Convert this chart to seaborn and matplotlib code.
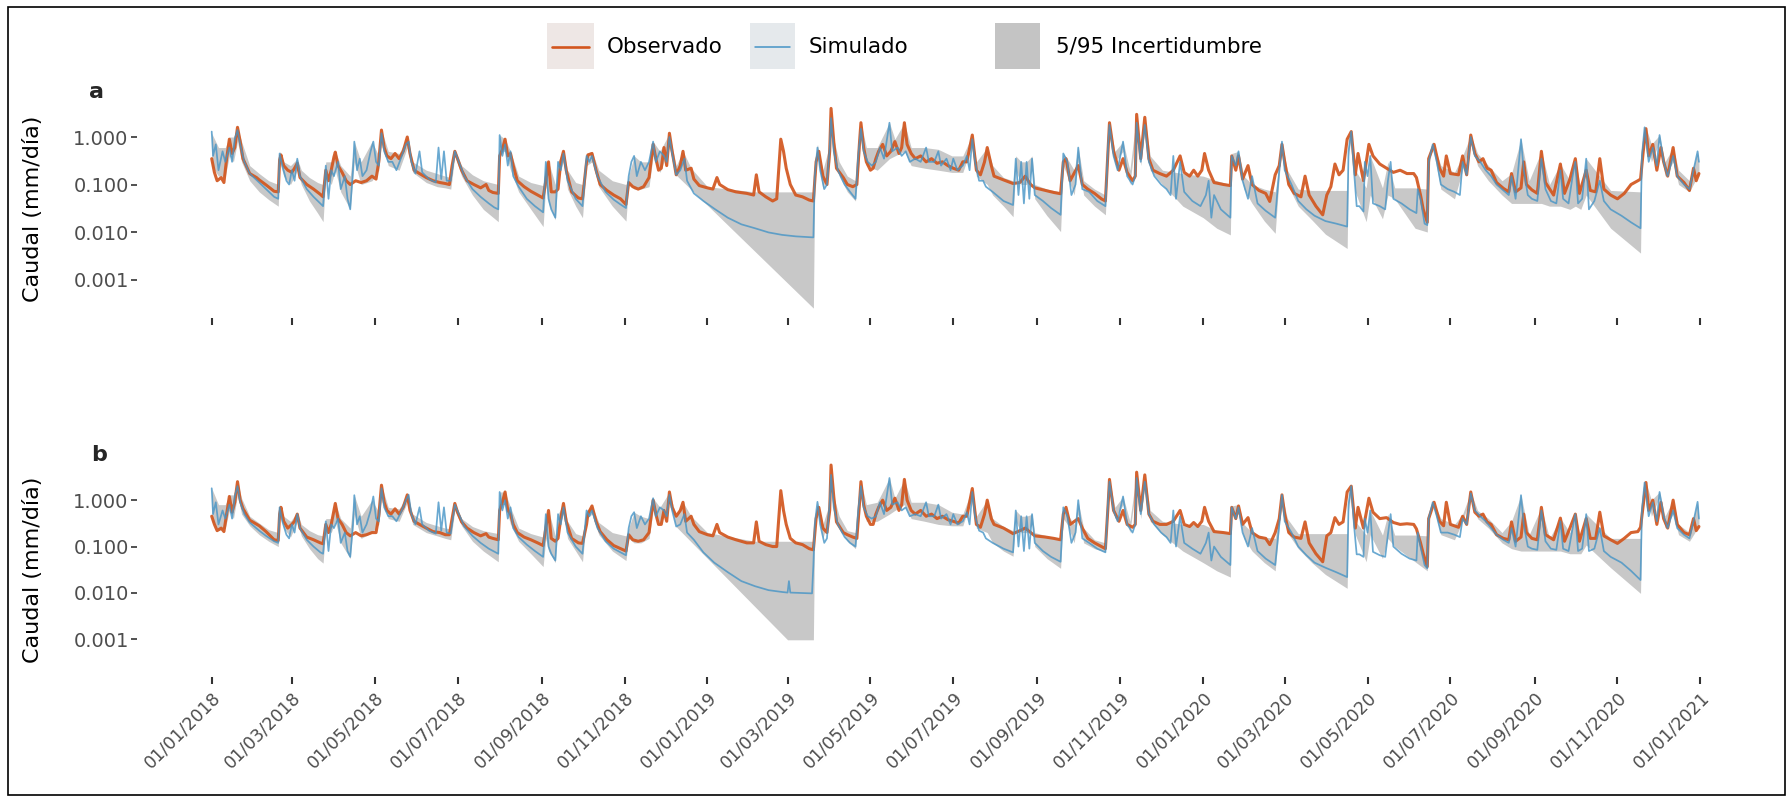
import numpy as np
import pandas as pd
import matplotlib
matplotlib.use("Agg")
import matplotlib.pyplot as plt
import matplotlib.dates as mdates
from matplotlib.patches import Rectangle
from matplotlib.lines import Line2D
import seaborn as sns

START = "2018-01-01"
legend_labels = ["Observado", "Simulado", "5/95 Incertidumbre"]
panel_labels = ["a", "b"]
y_ticks = [0.001, 0.01, 0.1, 1.0]
y_tick_labels = ["0.001", "0.010", "0.100", "1.000"]
y_label = "Caudal (mm/día)"

# (day since 2018-01-01, value) keyframes
obs_a = [(0,0.35),(2,0.18),(4,0.12),(7,0.14),(9,0.11),(11,0.35),(13,0.9),(15,0.45),(17,0.6),(19,1.6),(21,0.8),(23,0.35),(28,0.17),(33,0.14),(35,0.125),(40,0.098),(46,0.072),(49,0.07),(50,0.33),(51,0.42),(53,0.25),(56,0.2),(59,0.18),(61,0.22),(63,0.28),(65,0.14),(70,0.1),(75,0.08),(80,0.062),(82,0.055),(84,0.2),(86,0.12),(88,0.2),(90,0.38),(91,0.48),(93,0.25),(96,0.18),(99,0.12),(102,0.1),(106,0.12),(110,0.11),(114,0.12),(118,0.15),(121,0.13),(123,0.3),(125,1.4),(127,0.6),(129,0.4),(132,0.35),(135,0.45),(138,0.35),(141,0.5),(144,1.0),(146,0.45),(149,0.2),(153,0.17),(158,0.14),(163,0.12),(168,0.11),(172,0.105),(175,0.1),(177,0.25),(179,0.5),(181,0.35),(184,0.2),(188,0.12),(193,0.1),(198,0.085),(202,0.1),(204,0.075),(207,0.068),(211,0.065),(212,0.4),(214,0.55),(216,0.9),(218,0.4),(220,0.45),(222,0.25),(225,0.12),(230,0.09),(235,0.072),(240,0.06),(244,0.052),(246,0.12),(248,0.3),(250,0.07),(253,0.07),(255,0.08),(257,0.3),(259,0.5),(261,0.2),(265,0.07),(270,0.052),(273,0.05),(276,0.3),(277,0.42),(280,0.45),(283,0.2),(286,0.1),(291,0.075),(296,0.06),(301,0.05),(305,0.038),(307,0.11),(310,0.09),(314,0.08),(318,0.09),(322,0.14),(325,0.7),(327,0.35),(329,0.2),(331,0.22),(333,0.6),(335,0.25),(337,1.2),(339,0.5),(342,0.16),(345,0.25),(347,0.5),(349,0.2),(353,0.22),(355,0.13),(359,0.095),(365,0.085),(369,0.08),(372,0.14),(374,0.1),(380,0.078),(386,0.07),(394,0.065),(399,0.06),(401,0.16),(403,0.07),(408,0.055),(413,0.045),(416,0.05),(419,0.9),(421,0.5),(423,0.22),(426,0.1),(430,0.06),(435,0.055),(440,0.047),(443,0.045),(445,0.3),(447,0.5),(450,0.15),(453,0.1),(455,0.5),(456,4.0),(458,0.8),(460,0.22),(465,0.14),(468,0.1),(472,0.09),(475,0.1),(477,0.8),(478,2.0),(480,0.6),(482,0.3),(485,0.2),(487,0.22),(489,0.35),(491,0.5),(494,0.7),(497,0.4),(500,0.5),(503,0.8),(506,0.45),(508,0.6),(510,2.0),(512,0.7),(515,0.45),(518,0.35),(522,0.4),(526,0.3),(530,0.35),(534,0.28),(538,0.3),(542,0.25),(546,0.22),(550,0.2),(553,0.3),(556,0.3),(560,1.1),(563,0.2),(566,0.16),(569,0.3),(571,0.6),(574,0.25),(576,0.15),(583,0.125),(590,0.105),(595,0.11),(599,0.15),(603,0.1),(606,0.085),(614,0.075),(620,0.068),(625,0.064),(627,0.3),(629,0.35),(632,0.12),(638,0.25),(641,0.1),(645,0.08),(650,0.065),(655,0.05),(658,0.045),(660,0.6),(661,2.0),(664,0.5),(668,0.2),(671,0.35),(674,0.18),(678,0.12),(680,0.15),(681,3.0),(684,0.35),(687,2.6),(690,0.35),(693,0.2),(698,0.17),(703,0.15),(708,0.2),(713,0.4),(716,0.18),(720,0.15),(723,0.2),(726,0.15),(729,0.2),(731,0.45),(734,0.2),(738,0.11),(745,0.1),(750,0.095),(751,0.4),(754,0.2),(756,0.4),(759,0.13),(763,0.25),(766,0.1),(771,0.075),(776,0.065),(779,0.044),(783,0.16),(786,0.25),(788,0.7),(790,0.3),(793,0.1),(797,0.065),(802,0.055),(805,0.15),(808,0.06),(813,0.035),(818,0.023),(821,0.06),(824,0.09),(827,0.27),(830,0.16),(833,0.2),(836,0.9),(839,1.3),(842,0.16),(844,0.45),(848,0.12),(852,0.7),(855,0.4),(860,0.27),(865,0.22),(870,0.18),(875,0.2),(880,0.17),(885,0.17),(887,0.14),(890,0.06),(892,0.03),(895,0.016),(896,0.35),(900,0.7),(904,0.22),(907,0.15),(909,0.4),(912,0.17),(918,0.16),(921,0.4),(924,0.16),(927,1.1),(930,0.45),(933,0.3),(936,0.35),(939,0.22),(942,0.2),(946,0.11),(951,0.083),(955,0.07),(957,0.17),(960,0.07),(964,0.085),(966,0.3),(968,0.1),(972,0.077),(976,0.065),(979,0.5),(982,0.11),(988,0.06),(993,0.27),(996,0.065),(1000,0.13),(1004,0.35),(1007,0.065),(1012,0.2),(1015,0.075),(1019,0.07),(1022,0.35),(1025,0.08),(1030,0.06),(1035,0.05),(1040,0.065),(1045,0.1),(1050,0.12),(1052,0.13),(1054,0.5),(1056,1.5),(1058,0.4),(1061,0.7),(1064,0.2),(1067,0.6),(1069,0.3),(1072,0.15),(1076,0.6),(1079,0.15),(1084,0.11),(1088,0.075),(1091,0.22),(1093,0.12),(1095,0.17)]

sim_a = [(0,1.3),(1,0.4),(3,0.7),(5,0.2),(8,0.5),(10,0.3),(13,0.6),(15,0.3),(17,0.9),(19,1.4),(21,0.7),(24,0.3),(28,0.17),(35,0.11),(40,0.08),(46,0.055),(49,0.05),(50,0.45),(52,0.25),(55,0.12),(57,0.1),(59,0.2),(61,0.12),(63,0.35),(65,0.15),(70,0.08),(75,0.055),(80,0.04),(82,0.035),(84,0.25),(86,0.05),(88,0.2),(90,0.15),(93,0.3),(95,0.08),(98,0.15),(100,0.05),(102,0.03),(104,0.2),(105,0.8),(107,0.2),(109,0.35),(111,0.15),(114,0.2),(117,0.5),(119,0.8),(121,0.3),(123,0.25),(125,1.2),(127,0.5),(130,0.3),(133,0.3),(136,0.2),(140,0.4),(143,0.7),(145,0.8),(147,0.3),(150,0.17),(153,0.5),(155,0.18),(160,0.13),(165,0.11),(167,0.6),(169,0.13),(171,0.5),(173,0.12),(176,0.12),(179,0.5),(182,0.3),(186,0.15),(192,0.08),(198,0.055),(204,0.04),(208,0.033),(211,0.03),(212,1.1),(214,0.4),(216,0.7),(218,0.25),(220,0.5),(222,0.15),(226,0.09),(232,0.05),(238,0.035),(244,0.026),(246,0.3),(248,0.05),(250,0.03),(253,0.02),(255,0.3),(257,0.2),(259,0.45),(262,0.12),(268,0.05),(273,0.035),(276,0.4),(278,0.3),(280,0.4),(284,0.15),(290,0.07),(296,0.048),(301,0.038),(305,0.032),(307,0.15),(309,0.3),(311,0.4),(313,0.15),(316,0.3),(319,0.2),(322,0.3),(325,0.8),(327,0.3),(330,0.5),(333,0.4),(335,0.3),(337,1.0),(339,0.45),(342,0.16),(345,0.2),(348,0.35),(350,0.12),(355,0.065),(362,0.045),(370,0.031),(380,0.02),(390,0.0145),(400,0.012),(410,0.0098),(420,0.0087),(430,0.0081),(443,0.0077),(444,0.15),(446,0.6),(448,0.2),(451,0.08),(453,0.1),(455,0.6),(456,2.5),(458,0.5),(461,0.2),(466,0.1),(470,0.07),(474,0.05),(476,0.4),(478,1.5),(480,0.5),(483,0.3),(486,0.25),(489,0.3),(492,0.6),(495,0.35),(499,2.0),(501,0.5),(505,0.6),(508,0.4),(511,0.5),(514,0.3),(518,0.35),(522,0.3),(526,0.6),(528,0.3),(532,0.3),(535,0.5),(537,0.25),(541,0.35),(544,0.2),(546,0.35),(549,0.2),(553,0.25),(556,0.4),(558,0.2),(560,0.9),(562,0.3),(565,0.12),(568,0.12),(570,0.09),(575,0.07),(583,0.045),(590,0.037),(592,0.35),(594,0.06),(596,0.3),(598,0.04),(600,0.3),(602,0.05),(604,0.35),(606,0.06),(612,0.045),(618,0.032),(625,0.023),(627,0.45),(630,0.3),(633,0.06),(636,0.1),(638,0.6),(641,0.08),(646,0.07),(652,0.045),(658,0.035),(660,0.7),(661,1.8),(664,0.4),(667,0.2),(671,0.8),(674,0.15),(678,0.1),(680,0.15),(681,2.0),(684,0.3),(687,1.8),(690,0.3),(694,0.15),(699,0.1),(703,0.08),(706,0.06),(708,0.4),(710,0.05),(713,0.3),(716,0.07),(722,0.045),(728,0.035),(732,0.06),(734,0.12),(736,0.02),(738,0.06),(743,0.03),(750,0.02),(751,0.4),(754,0.25),(756,0.5),(759,0.12),(763,0.05),(766,0.15),(770,0.04),(776,0.028),(783,0.02),(786,0.2),(788,0.8),(790,0.2),(795,0.1),(800,0.045),(806,0.03),(812,0.022),(820,0.017),(828,0.015),(836,0.013),(837,0.5),(839,1.3),(841,0.2),(843,0.035),(845,0.035),(848,0.027),(849,0.3),(851,0.15),(853,0.4),(855,0.04),(860,0.035),(864,0.03),(866,0.12),(868,0.3),(870,0.05),(876,0.04),(882,0.03),(887,0.025),(888,0.08),(890,0.05),(893,0.015),(895,0.014),(896,0.3),(899,0.7),(902,0.3),(905,0.1),(910,0.08),(915,0.07),(919,0.06),(921,0.3),(924,0.16),(927,1.0),(930,0.4),(934,0.3),(938,0.2),(942,0.15),(946,0.1),(951,0.075),(955,0.06),(957,0.15),(960,0.05),(964,0.9),(966,0.2),(969,0.06),(972,0.05),(976,0.045),(979,0.35),(982,0.08),(986,0.045),(990,0.04),(993,0.2),(995,0.05),(999,0.04),(1002,0.15),(1004,0.3),(1006,0.04),(1009,0.05),(1012,0.35),(1014,0.03),(1018,0.045),(1022,0.12),(1025,0.045),(1030,0.03),(1038,0.022),(1045,0.016),(1052,0.012),(1053,0.4),(1055,1.6),(1058,0.3),(1061,0.6),(1064,0.25),(1066,1.1),(1069,0.3),(1072,0.15),(1076,0.4),(1079,0.15),(1084,0.1),(1088,0.08),(1091,0.2),(1094,0.5),(1095,0.3)]

# (day, 5% bound, 95% bound)
band_a = [(0,0.25,1.2),(5,0.15,0.6),(10,0.15,0.6),(13,0.4,1.0),(16,0.3,1.0),(19,0.8,1.6),(22,0.3,0.8),(28,0.12,0.25),(35,0.07,0.17),(42,0.048,0.12),(49,0.035,0.1),(50,0.3,0.5),(53,0.15,0.3),(58,0.1,0.25),(63,0.2,0.35),(66,0.1,0.2),(72,0.045,0.14),(78,0.025,0.11),(82,0.0165,0.1),(84,0.15,0.3),(88,0.1,0.3),(91,0.2,0.5),(95,0.07,0.25),(102,0.03,0.15),(105,0.3,0.8),(110,0.1,0.3),(118,0.12,0.8),(123,0.2,0.4),(125,0.8,1.4),(130,0.25,0.5),(138,0.2,0.45),(144,0.6,1.0),(148,0.18,0.3),(158,0.11,0.2),(166,0.09,0.17),(172,0.085,0.15),(176,0.08,0.14),(179,0.4,0.55),(184,0.15,0.25),(192,0.06,0.16),(200,0.03,0.12),(211,0.0165,0.1),(212,0.5,1.1),(216,0.5,0.9),(220,0.2,0.5),(226,0.07,0.15),(235,0.03,0.11),(244,0.013,0.095),(246,0.1,0.3),(248,0.04,0.3),(253,0.018,0.1),(255,0.15,0.3),(259,0.3,0.55),(262,0.08,0.2),(268,0.035,0.11),(273,0.02,0.1),(276,0.25,0.45),(280,0.3,0.5),(285,0.09,0.2),(295,0.035,0.12),(305,0.017,0.1),(307,0.1,0.15),(311,0.08,0.4),(316,0.08,0.3),(322,0.09,0.3),(325,0.4,0.8),(330,0.18,0.5),(337,0.6,1.2),(342,0.158,0.25),(347,0.115,0.5),(353,0.0785,0.22),(365,0.0365,0.09),(400,0.0039,0.07),(443,0.00025,0.07),(444,0.1,0.3),(446,0.4,0.7),(450,0.08,0.2),(455,0.3,0.7),(456,2.0,4.0),(458,0.4,0.9),(462,0.15,0.3),(468,0.07,0.15),(474,0.045,0.12),(477,0.4,0.9),(478,1.3,2.0),(482,0.25,0.6),(490,0.2,0.6),(499,0.35,2.0),(503,0.4,0.9),(510,0.5,2.0),(515,0.25,0.6),(525,0.22,0.6),(535,0.2,0.55),(545,0.18,0.4),(553,0.18,0.4),(560,0.7,1.1),(563,0.15,0.3),(571,0.1,0.6),(575,0.06,0.25),(583,0.035,0.14),(590,0.021,0.12),(592,0.2,0.4),(596,0.1,0.3),(600,0.1,0.3),(604,0.2,0.4),(606,0.05,0.1),(615,0.022,0.08),(625,0.0102,0.07),(627,0.25,0.45),(630,0.15,0.35),(635,0.06,0.2),(638,0.3,0.6),(642,0.06,0.12),(650,0.035,0.08),(658,0.023,0.06),(660,0.4,0.7),(661,1.5,2.0),(665,0.3,0.5),(671,0.5,0.8),(676,0.1,0.2),(681,1.5,3.0),(684,0.25,0.4),(687,1.5,2.6),(691,0.2,0.4),(700,0.1,0.2),(715,0.035,0.17),(730,0.02,0.15),(740,0.012,0.12),(750,0.0087,0.1),(751,0.3,0.45),(756,0.3,0.5),(760,0.08,0.15),(766,0.04,0.1),(775,0.017,0.08),(783,0.0094,0.07),(786,0.15,0.25),(788,0.6,0.8),(792,0.1,0.2),(800,0.035,0.08),(810,0.018,0.075),(820,0.009,0.075),(836,0.0045,0.075),(837,0.4,0.9),(839,1.0,1.3),(842,0.07,0.2),(850,0.0165,0.085),(853,0.06,0.4),(862,0.019,0.085),(866,0.06,0.3),(871,0.05,0.085),(886,0.012,0.085),(895,0.01,0.08),(896,0.25,0.4),(899,0.6,0.8),(905,0.08,0.25),(915,0.05,0.18),(921,0.2,0.4),(927,0.8,1.1),(932,0.25,0.45),(940,0.12,0.25),(950,0.06,0.12),(957,0.04,0.17),(964,0.04,0.9),(970,0.04,0.12),(979,0.04,0.5),(985,0.035,0.1),(993,0.035,0.27),(1000,0.03,0.12),(1004,0.035,0.35),(1008,0.03,0.08),(1012,0.06,0.35),(1030,0.012,0.075),(1052,0.0036,0.07),(1053,0.3,0.5),(1056,1.2,1.6),(1060,0.3,0.7),(1066,0.8,1.1),(1070,0.15,0.3),(1076,0.3,0.6),(1080,0.1,0.2),(1088,0.07,0.12),(1094,0.15,0.5),(1095,0.15,0.3)]

obs_b = [(0,0.45),(2,0.3),(4,0.22),(7,0.25),(9,0.21),(11,0.5),(13,1.2),(15,0.55),(17,0.9),(19,2.5),(21,1.0),(23,0.66),(28,0.37),(35,0.28),(40,0.21),(46,0.14),(49,0.135),(50,0.5),(51,0.7),(53,0.35),(56,0.25),(59,0.3),(61,0.35),(63,0.5),(65,0.25),(70,0.16),(75,0.14),(80,0.12),(82,0.115),(84,0.3),(86,0.2),(88,0.3),(90,0.6),(91,0.85),(93,0.4),(96,0.3),(99,0.2),(102,0.17),(106,0.2),(110,0.17),(114,0.18),(118,0.2),(121,0.2),(123,0.45),(125,2.1),(127,0.9),(129,0.6),(132,0.5),(135,0.65),(138,0.5),(141,0.7),(144,1.3),(146,0.6),(149,0.35),(153,0.3),(158,0.25),(163,0.21),(168,0.2),(172,0.18),(175,0.18),(177,0.4),(179,0.85),(181,0.55),(184,0.34),(188,0.25),(193,0.2),(198,0.17),(202,0.19),(204,0.16),(207,0.15),(211,0.14),(212,0.6),(214,0.9),(216,1.5),(218,0.6),(220,0.5),(222,0.3),(225,0.2),(230,0.16),(235,0.14),(240,0.12),(244,0.105),(246,0.25),(248,0.6),(250,0.15),(253,0.13),(255,0.15),(257,0.4),(259,0.85),(261,0.35),(265,0.15),(270,0.12),(273,0.117),(276,0.3),(277,0.5),(280,0.75),(283,0.35),(286,0.21),(291,0.14),(296,0.105),(301,0.09),(305,0.08),(307,0.18),(310,0.14),(314,0.13),(318,0.14),(322,0.2),(325,1.0),(327,0.5),(329,0.3),(331,0.3),(333,0.6),(335,0.35),(337,1.5),(339,0.7),(342,0.45),(345,0.6),(347,0.9),(349,0.35),(353,0.45),(355,0.3),(359,0.21),(365,0.18),(369,0.17),(372,0.3),(374,0.2),(380,0.16),(386,0.14),(394,0.12),(399,0.12),(401,0.34),(403,0.13),(408,0.11),(413,0.1),(416,0.1),(419,1.6),(421,0.6),(423,0.3),(426,0.15),(430,0.12),(435,0.11),(440,0.09),(443,0.085),(445,0.4),(447,0.7),(450,0.25),(453,0.2),(455,0.6),(456,5.7),(458,1.2),(460,0.34),(465,0.2),(468,0.18),(472,0.16),(475,0.15),(477,0.9),(478,2.5),(480,0.8),(482,0.45),(485,0.3),(487,0.3),(489,0.5),(491,0.7),(494,1.0),(497,0.6),(500,0.7),(503,1.1),(506,0.6),(508,0.8),(510,2.8),(512,1.0),(515,0.6),(518,0.5),(522,0.6),(526,0.45),(530,0.5),(534,0.4),(538,0.45),(542,0.38),(546,0.35),(550,0.32),(553,0.45),(556,0.45),(560,1.78),(563,0.3),(566,0.26),(569,0.5),(571,1.0),(574,0.4),(576,0.3),(583,0.25),(590,0.19),(595,0.22),(599,0.25),(603,0.2),(606,0.17),(614,0.16),(620,0.15),(625,0.14),(627,0.5),(629,0.7),(632,0.3),(638,0.4),(641,0.25),(645,0.15),(650,0.12),(655,0.1),(658,0.09),(660,0.8),(661,2.8),(664,0.6),(668,0.35),(671,0.6),(674,0.3),(678,0.26),(680,0.3),(681,4.0),(684,0.6),(687,3.5),(690,0.5),(693,0.35),(698,0.3),(703,0.3),(708,0.35),(713,0.6),(716,0.3),(720,0.27),(723,0.33),(726,0.27),(729,0.35),(731,0.7),(734,0.35),(738,0.21),(745,0.2),(750,0.19),(751,0.7),(754,0.4),(756,0.75),(759,0.3),(763,0.42),(766,0.2),(771,0.16),(776,0.15),(779,0.11),(783,0.2),(786,0.4),(788,1.3),(790,0.5),(793,0.2),(797,0.16),(802,0.15),(805,0.34),(808,0.12),(813,0.07),(818,0.047),(821,0.17),(824,0.2),(827,0.42),(830,0.3),(833,0.34),(836,1.5),(839,2.0),(842,0.25),(844,0.7),(848,0.25),(852,1.1),(855,0.55),(860,0.4),(865,0.42),(870,0.33),(875,0.3),(880,0.31),(885,0.3),(887,0.24),(890,0.12),(892,0.07),(895,0.037),(896,0.4),(900,0.9),(904,0.35),(907,0.28),(909,0.9),(912,0.3),(918,0.26),(921,0.45),(924,0.3),(927,1.5),(930,0.55),(933,0.45),(936,0.5),(939,0.34),(942,0.3),(946,0.18),(951,0.15),(955,0.14),(957,0.34),(960,0.13),(964,0.16),(966,0.5),(968,0.2),(972,0.15),(976,0.14),(979,0.7),(982,0.18),(988,0.14),(993,0.41),(996,0.13),(1000,0.25),(1004,0.5),(1007,0.13),(1012,0.4),(1015,0.15),(1019,0.15),(1022,0.55),(1025,0.17),(1030,0.14),(1035,0.117),(1040,0.15),(1045,0.2),(1050,0.21),(1052,0.26),(1054,0.8),(1056,2.4),(1058,0.6),(1061,1.0),(1064,0.3),(1067,0.9),(1069,0.4),(1072,0.25),(1076,1.0),(1079,0.3),(1084,0.2),(1088,0.18),(1091,0.4),(1093,0.22),(1095,0.27)]

sim_b = [(0,1.8),(1,0.5),(3,0.9),(5,0.3),(8,0.6),(10,0.4),(13,0.8),(15,0.4),(17,1.2),(19,2.0),(21,0.9),(24,0.5),(28,0.33),(35,0.22),(40,0.17),(46,0.13),(49,0.12),(50,0.7),(52,0.35),(55,0.18),(57,0.15),(59,0.3),(61,0.2),(63,0.5),(65,0.25),(70,0.14),(75,0.1),(80,0.075),(82,0.07),(84,0.35),(86,0.08),(88,0.3),(90,0.25),(93,0.4),(95,0.12),(98,0.2),(100,0.08),(102,0.06),(104,0.3),(105,1.28),(107,0.3),(109,0.45),(111,0.2),(114,0.3),(117,0.6),(119,1.2),(121,0.4),(123,0.35),(125,1.8),(127,0.7),(130,0.45),(133,0.45),(136,0.35),(140,0.6),(143,1.0),(145,1.3),(147,0.5),(150,0.3),(153,0.7),(155,0.3),(160,0.22),(165,0.19),(167,0.9),(169,0.22),(171,0.7),(173,0.2),(176,0.19),(179,0.8),(182,0.5),(186,0.27),(192,0.17),(198,0.12),(204,0.09),(208,0.078),(211,0.07),(212,1.5),(214,0.6),(216,1.0),(218,0.4),(220,0.7),(222,0.25),(226,0.16),(232,0.11),(238,0.08),(244,0.06),(246,0.5),(248,0.1),(250,0.07),(253,0.05),(255,0.5),(257,0.3),(259,0.7),(262,0.2),(268,0.1),(273,0.07),(276,0.6),(278,0.45),(280,0.6),(284,0.25),(290,0.13),(296,0.09),(301,0.075),(305,0.065),(307,0.25),(309,0.45),(311,0.55),(313,0.25),(316,0.45),(319,0.3),(322,0.4),(325,1.1),(327,0.45),(330,0.7),(333,0.6),(335,0.45),(337,1.3),(339,0.6),(342,0.27),(345,0.3),(348,0.5),(350,0.2),(355,0.14),(362,0.075),(370,0.045),(380,0.028),(390,0.018),(400,0.014),(410,0.0115),(420,0.0105),(424,0.0102),(425,0.018),(426,0.0102),(435,0.01),(442,0.0098),(443,0.04),(444,0.3),(446,0.92),(448,0.3),(451,0.12),(453,0.15),(455,0.9),(456,3.5),(458,0.7),(461,0.3),(466,0.16),(470,0.12),(474,0.1),(476,0.6),(478,2.0),(480,0.7),(483,0.45),(486,0.4),(489,0.45),(492,0.9),(495,0.5),(499,3.0),(501,0.8),(505,0.9),(508,0.6),(511,0.7),(514,0.45),(518,0.5),(522,0.45),(526,0.9),(528,0.45),(532,0.45),(535,0.8),(537,0.4),(541,0.5),(544,0.3),(546,0.5),(549,0.3),(553,0.35),(556,0.55),(558,0.3),(560,1.5),(562,0.45),(565,0.22),(568,0.2),(570,0.15),(575,0.12),(583,0.09),(590,0.075),(592,0.6),(594,0.1),(596,0.45),(598,0.08),(600,0.45),(602,0.09),(604,0.5),(606,0.12),(612,0.08),(618,0.06),(625,0.047),(627,0.7),(630,0.45),(633,0.12),(636,0.2),(638,1.0),(641,0.15),(646,0.12),(652,0.09),(658,0.075),(660,1.0),(661,2.5),(664,0.6),(667,0.35),(671,1.2),(674,0.3),(678,0.2),(680,0.3),(681,3.0),(684,0.5),(687,2.5),(690,0.5),(694,0.3),(699,0.2),(703,0.16),(706,0.12),(708,0.6),(710,0.1),(713,0.45),(716,0.12),(722,0.09),(728,0.07),(732,0.12),(734,0.2),(736,0.05),(738,0.1),(743,0.06),(750,0.04),(751,0.7),(754,0.4),(756,0.7),(759,0.2),(763,0.1),(766,0.25),(770,0.08),(776,0.055),(783,0.04),(786,0.3),(788,1.3),(790,0.35),(795,0.2),(800,0.1),(806,0.065),(812,0.045),(820,0.035),(828,0.028),(836,0.022),(837,0.8),(839,2.0),(841,0.3),(843,0.068),(845,0.068),(848,0.06),(849,0.4),(851,0.2),(853,0.6),(855,0.077),(860,0.065),(864,0.06),(866,0.18),(868,0.5),(870,0.1),(876,0.07),(882,0.055),(887,0.05),(888,0.2),(890,0.1),(893,0.04),(895,0.034),(896,0.4),(899,0.9),(902,0.45),(905,0.2),(910,0.2),(915,0.18),(919,0.16),(921,0.4),(924,0.3),(927,1.4),(930,0.6),(934,0.45),(938,0.35),(942,0.25),(946,0.18),(951,0.14),(955,0.12),(957,0.25),(960,0.1),(964,1.28),(966,0.3),(969,0.1),(972,0.09),(976,0.085),(979,0.6),(982,0.13),(986,0.09),(990,0.085),(993,0.35),(995,0.09),(999,0.08),(1002,0.25),(1004,0.5),(1006,0.08),(1009,0.09),(1012,0.5),(1014,0.08),(1018,0.09),(1022,0.25),(1025,0.08),(1030,0.06),(1038,0.045),(1045,0.03),(1052,0.019),(1053,0.6),(1055,2.4),(1058,0.45),(1061,0.9),(1064,0.35),(1066,1.5),(1069,0.45),(1072,0.25),(1076,0.6),(1079,0.25),(1084,0.18),(1088,0.15),(1091,0.35),(1094,0.92),(1095,0.4)]

band_b = [(0,0.35,1.8),(5,0.22,0.8),(10,0.25,0.8),(13,0.6,1.3),(16,0.4,1.3),(19,1.3,2.5),(22,0.5,1.1),(28,0.28,0.45),(35,0.18,0.32),(42,0.13,0.23),(49,0.1,0.2),(50,0.5,0.8),(53,0.25,0.45),(58,0.16,0.35),(63,0.35,0.55),(66,0.17,0.3),(72,0.09,0.22),(78,0.055,0.18),(82,0.044,0.17),(84,0.25,0.4),(88,0.2,0.4),(91,0.35,0.85),(95,0.12,0.4),(102,0.055,0.25),(105,0.5,1.28),(110,0.15,0.45),(118,0.2,1.0),(123,0.3,0.55),(125,1.2,2.1),(130,0.4,0.7),(138,0.35,0.65),(144,0.9,1.3),(148,0.3,0.5),(158,0.2,0.33),(166,0.17,0.28),(172,0.15,0.25),(176,0.14,0.24),(179,0.6,0.85),(184,0.28,0.4),(192,0.13,0.27),(200,0.08,0.22),(211,0.047,0.19),(212,0.8,1.5),(216,0.8,1.5),(220,0.3,0.7),(226,0.13,0.25),(235,0.07,0.19),(244,0.037,0.16),(246,0.15,0.5),(248,0.08,0.6),(253,0.045,0.17),(255,0.25,0.5),(259,0.5,0.85),(262,0.15,0.35),(268,0.08,0.19),(273,0.047,0.17),(276,0.4,0.6),(280,0.5,0.75),(285,0.18,0.33),(295,0.08,0.2),(305,0.05,0.17),(307,0.15,0.25),(311,0.12,0.55),(316,0.12,0.45),(322,0.15,0.4),(325,0.6,1.1),(330,0.3,0.7),(337,0.9,1.5),(342,0.267,0.45),(347,0.19,0.9),(353,0.126,0.45),(365,0.0555,0.2),(400,0.00506,0.13),(424,0.00098,0.13),(443,0.00098,0.13),(444,0.25,0.4),(446,0.6,0.92),(450,0.15,0.3),(455,0.5,0.9),(456,3.0,5.7),(458,0.6,1.2),(462,0.25,0.45),(468,0.13,0.22),(474,0.09,0.2),(477,0.5,0.9),(478,1.8,2.5),(482,0.35,0.8),(490,0.35,0.9),(499,0.5,3.0),(503,0.6,1.1),(510,0.8,2.8),(515,0.4,0.9),(525,0.35,0.9),(535,0.3,0.8),(545,0.28,0.55),(553,0.28,0.5),(560,1.2,1.78),(563,0.25,0.45),(571,0.2,1.0),(575,0.12,0.4),(583,0.08,0.27),(590,0.062,0.22),(592,0.35,0.6),(596,0.2,0.45),(600,0.2,0.45),(604,0.3,0.5),(606,0.1,0.2),(615,0.055,0.17),(625,0.034,0.15),(627,0.4,0.7),(630,0.3,0.5),(635,0.12,0.3),(638,0.5,0.9),(642,0.12,0.25),(650,0.09,0.14),(658,0.077,0.12),(660,0.6,1.0),(661,2.0,2.8),(665,0.4,0.7),(671,0.8,1.2),(676,0.2,0.35),(681,2.5,4.0),(684,0.4,0.65),(687,2.0,3.5),(691,0.35,0.6),(700,0.18,0.35),(715,0.08,0.3),(730,0.045,0.3),(740,0.03,0.22),(750,0.022,0.2),(751,0.5,0.75),(756,0.5,0.8),(760,0.15,0.3),(766,0.08,0.2),(775,0.045,0.16),(783,0.03,0.15),(786,0.25,0.45),(788,1.0,1.3),(792,0.2,0.4),(800,0.09,0.19),(810,0.045,0.19),(820,0.025,0.19),(836,0.0126,0.19),(837,0.6,1.5),(839,1.6,2.0),(842,0.18,0.35),(850,0.047,0.177),(853,0.18,0.6),(862,0.055,0.177),(866,0.15,0.5),(871,0.1,0.177),(886,0.047,0.177),(895,0.03,0.17),(896,0.35,0.5),(899,0.8,1.0),(905,0.18,0.4),(915,0.14,0.3),(921,0.35,0.5),(927,1.2,1.5),(932,0.4,0.6),(940,0.25,0.4),(950,0.12,0.2),(957,0.09,0.35),(964,0.08,1.28),(970,0.08,0.18),(979,0.08,0.7),(985,0.08,0.15),(993,0.08,0.41),(1000,0.07,0.2),(1004,0.07,0.5),(1008,0.07,0.15),(1012,0.108,0.5),(1030,0.035,0.15),(1052,0.0098,0.15),(1053,0.4,0.7),(1056,1.8,2.4),(1060,0.45,1.0),(1066,1.2,1.5),(1070,0.25,0.45),(1076,0.5,1.0),(1080,0.18,0.3),(1088,0.13,0.2),(1094,0.25,0.92),(1095,0.25,0.4)]

OBS_COLOR = "#D2561E"
SIM_COLOR = "#4594C6"
BAND_COLOR = "#C8C8C8"
TEXT_GRAY = "#4D4D4D"

W, H = 1788, 798

sns.set_theme(style="white")
plt.rcParams["font.family"] = ["DejaVu Sans"]

t0 = pd.Timestamp(START)


def line_df(pairs):
    days = np.array([p[0] for p in pairs], dtype=float)
    vals = np.array([p[1] for p in pairs], dtype=float)
    return pd.DataFrame({"fecha": t0 + pd.to_timedelta(days, unit="D"), "caudal": vals})


def band_df(triples):
    days = np.array([p[0] for p in triples], dtype=float)
    return pd.DataFrame({"fecha": t0 + pd.to_timedelta(days, unit="D"),
                         "lo": [p[1] for p in triples],
                         "hi": [p[2] for p in triples]})


fig = plt.figure(figsize=(W / 100, H / 100), dpi=100)
fig.patch.set_facecolor("white")

axes_px = [(137, 99, 1775, 318), (137, 463, 1775, 677)]
label_px = [(97, 92), (99, 455)]
datasets = [(obs_a, sim_a, band_a), (obs_b, sim_b, band_b)]

for i, ((x0, y0, x1, y1), (obs, sim, band)) in enumerate(zip(axes_px, datasets)):
    ax = fig.add_axes([x0 / W, 1 - y1 / H, (x1 - x0) / W, (y1 - y0) / H])
    ax.set_yscale("log")
    bd = band_df(band)
    ax.fill_between(bd["fecha"], bd["lo"], bd["hi"], color=BAND_COLOR, lw=0, zorder=1)
    sns.lineplot(data=line_df(obs), x="fecha", y="caudal", ax=ax, color=OBS_COLOR,
                 lw=2.2, alpha=0.92, estimator=None, legend=False, zorder=2)
    sns.lineplot(data=line_df(sim), x="fecha", y="caudal", ax=ax, color=SIM_COLOR,
                 lw=1.25, alpha=0.8, estimator=None, legend=False, zorder=3)
    ax.set_xlim(t0 - pd.Timedelta(days=55), t0 + pd.Timedelta(days=1096 + 55))
    ax.set_ylim(10 ** -3.81, 10 ** 0.80)
    ax.set_yticks(y_ticks)
    ax.set_yticklabels(y_tick_labels)
    ax.yaxis.set_minor_locator(matplotlib.ticker.NullLocator())
    ax.xaxis.set_major_locator(mdates.MonthLocator(bymonth=[1, 3, 5, 7, 9, 11]))
    ax.xaxis.set_major_formatter(mdates.DateFormatter("%d/%m/%Y"))
    ax.xaxis.set_minor_locator(matplotlib.ticker.NullLocator())
    for s in ax.spines.values():
        s.set_visible(False)
    ax.grid(False)
    ax.set_facecolor("white")
    ax.tick_params(axis="y", which="major", length=4.5, width=1.2, color="#333333",
                   labelsize=14, labelcolor=TEXT_GRAY, pad=1.5, left=True)
    ax.tick_params(axis="x", which="major", length=5, width=1.5, color="#333333",
                   labelsize=12.5, labelcolor=TEXT_GRAY, pad=3, bottom=True)
    ax.set_xlabel("")
    ax.set_ylabel(y_label, fontsize=16, color="black")
    ax.yaxis.set_label_coords((43 - 137) / (x1 - x0), 0.5)
    if i == 0:
        ax.tick_params(axis="x", labelbottom=False)
    else:
        for lab in ax.get_xticklabels():
            lab.set_rotation(45)
            lab.set_ha("right")
            lab.set_rotation_mode("anchor")
    fig.text(label_px[i][0] / W, 1 - label_px[i][1] / H, panel_labels[i],
             fontsize=16, fontweight="bold", ha="center", va="center")

# legend
def fx(px):
    return px / W


def fy(py):
    return 1 - py / H


key_specs = [
    (547, 594, "#EEE7E5", OBS_COLOR, 1.9, 607, legend_labels[0]),
    (750, 795, "#E5E9EC", SIM_COLOR, 1.1, 809, legend_labels[1]),
    (995, 1040, "#C4C4C4", None, 0, 1056, legend_labels[2]),
]
for kx0, kx1, fill, lc, lw, tx, txt in key_specs:
    fig.add_artist(Rectangle((fx(kx0), fy(69)), fx(kx1) - fx(kx0), fy(23) - fy(69),
                             transform=fig.transFigure, facecolor=fill, edgecolor="none"))
    if lc is not None:
        fig.add_artist(Line2D([fx(kx0 + 5), fx(kx1 - 5)], [fy(47), fy(47)],
                              transform=fig.transFigure, color=lc, lw=lw))
    fig.text(fx(tx), fy(47), txt, fontsize=15.4, ha="left", va="center", color="black")

# outer frame
fig.add_artist(Rectangle((fx(8), fy(795)), fx(1785) - fx(8), fy(7) - fy(795),
                         transform=fig.transFigure, fill=False, edgecolor="black", lw=1.2))

fig.savefig("out.png", dpi=100, facecolor="white")
